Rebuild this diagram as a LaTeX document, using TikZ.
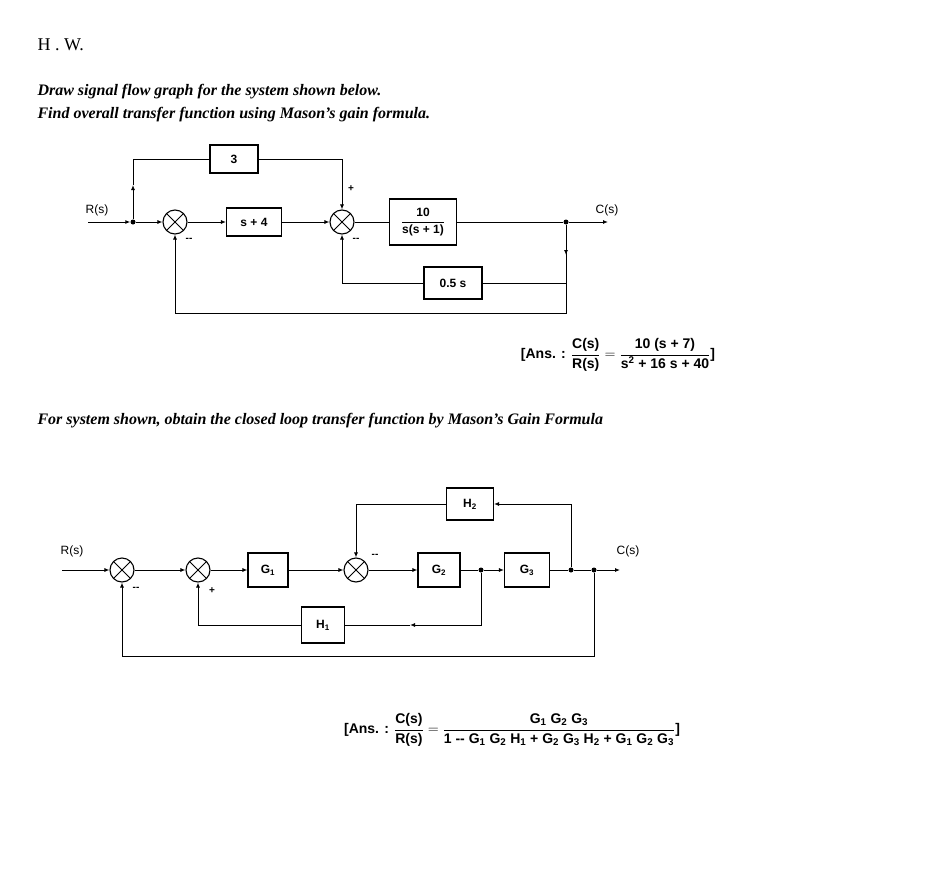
\documentclass[tikz,border=0pt]{standalone}
\usepackage{fontspec}
\setmainfont{Liberation Serif}
\newfontfamily\dsans{Liberation Sans}
\usetikzlibrary{arrows.meta}
\newcommand{\bb}[1]{\textbf{#1}}
\newcommand{\gs}[2]{\textbf{#1}\textsubscript{\textbf{#2}}}
\begin{document}
\begin{tikzpicture}[x=1pt,y=-1pt,
  blk/.style={draw,line width=1.1pt,fill=white,font=\dsans\bfseries\fontsize{12}{13}\selectfont,inner sep=2pt},
  sumj/.style={draw,line width=1.1pt,circle,minimum size=24pt,inner sep=0pt,path picture={\draw[line width=1pt] (path picture bounding box.north west)--(path picture bounding box.south east) (path picture bounding box.south west)--(path picture bounding box.north east);}},
  sig/.style={line width=0.9pt},
  ar/.style={sig,-{Latex[length=5pt,width=4pt]}},
  dot/.style={circle,fill,inner sep=0pt,minimum size=5pt},
  lab/.style={font=\dsans\fontsize{12}{13}\selectfont},
  sg/.style={font=\dsans\bfseries\fontsize{10}{10}\selectfont},
  ttl/.style={anchor=west,font=\bfseries\itshape\fontsize{16}{17}\selectfont},
  ans/.style={font=\dsans\bfseries\fontsize{14}{16}\selectfont}]
\useasboundingbox (0,0) rectangle (928,888);
\node[anchor=west,font=\fontsize{18}{20}\selectfont] (hw) at (34,45) {H . W.};
\node[ttl] (t1) at (34,92) {Draw signal flow graph for the system shown below.};
\node[ttl] (t2) at (34,115) {Find overall transfer function using Mason's gain formula.};
\node[ttl] (t3) at (34,421) {For system shown, obtain the closed loop transfer function by Mason's Gain Formula};
% top diagram
\coordinate (in1) at (88,222);
\node[dot] (b1) at (133,222) {};
\node[sumj] (s1) at (175,222) {};
\node[blk,minimum width=55pt,minimum height=28pt] (k1) at (254,222) {s + 4};
\node[sumj] (s2) at (342,222) {};
\node[blk,minimum width=67pt,minimum height=46pt] (k2) at (423,222) {$\displaystyle\frac{\textbf{10}}{\textbf{s(s + 1)}}$};
\node[dot] (b2) at (566,222) {};
\coordinate (out1) at (608,222);
\node[blk,minimum width=48pt,minimum height=28pt] (k3) at (234,159) {3};
\node[blk,minimum width=58pt,minimum height=32pt] (k4) at (453,283) {0.5 s};
\node[lab] (r1) at (97,210) {R(s)};
\node[lab] (c1) at (607,210) {C(s)};
\draw[ar] (in1)--(b1); \draw[ar] (b1)--(s1); \draw[ar] (s1)--(k1); \draw[ar] (k1)--(s2);
\draw[sig] (s2)--(k2); \draw[sig] (k2)--(b2); \draw[ar] (b2)--(out1);
\draw[ar] (b1)--(133,185); \draw[sig] (133,185)--(133,159)--(k3); \draw[ar] (k3)--(342,159)--(s2);
\draw[ar] (b2)--(566,255); \draw[sig] (566,255)--(566,283)--(k4); \draw[ar] (k4)--(342,283)--(s2);
\draw[ar] (b2)--(566,313)--(175,313)--(s1);
\node[sg] at (351,189) {+};
\node[sg] at (189,240) {--}; \node[sg] at (356,240) {--};
\node[ans] (a1) at (618,355) {[Ans. : $\displaystyle\frac{\bb{C(s)}}{\bb{R(s)}}=\frac{\bb{10 (s + 7)}}{\bb{s\textsuperscript{2} + 16 s + 40}}$]};
% bottom diagram
\coordinate (in2) at (62,570);
\node[sumj] (t1s) at (122,570) {};
\node[sumj] (t2s) at (198,570) {};
\node[blk,minimum width=40pt,minimum height=34pt] (g1) at (268,570) {G\textsubscript{1}};
\node[sumj] (t3s) at (356,570) {};
\node[blk,minimum width=42pt,minimum height=34pt] (g2) at (439,570) {G\textsubscript{2}};
\node[dot] (p1) at (481,570) {};
\node[blk,minimum width=45pt,minimum height=34pt] (g3) at (527,570) {G\textsubscript{3}};
\node[dot] (p2) at (571,570) {};
\node[dot] (p3) at (594,570) {};
\coordinate (out2) at (620,570);
\node[blk,minimum width=47pt,minimum height=32pt] (h2) at (470,504) {H\textsubscript{2}};
\node[blk,minimum width=43pt,minimum height=36pt] (h1) at (323,625) {H\textsubscript{1}};
\node[lab] (r2) at (72,551) {R(s)};
\node[lab] (c2) at (628,551) {C(s)};
\draw[ar] (in2)--(t1s); \draw[ar] (t1s)--(t2s); \draw[ar] (t2s)--(g1); \draw[ar] (g1)--(t3s);
\draw[ar] (t3s)--(g2); \draw[sig] (g2)--(p1); \draw[ar] (p1)--(g3); \draw[sig] (g3)--(p2)--(p3); \draw[ar] (p3)--(out2);
\draw[ar] (p2)--(571,504)--(h2); \draw[ar] (h2)--(356,504)--(t3s);
\draw[ar] (p1)--(481,625)--(410,625); \draw[sig] (410,625)--(h1); \draw[ar] (h1)--(198,625)--(t2s);
\draw[ar] (p3)--(594,656)--(122,656)--(t1s);
\node[sg] at (136,589) {--}; \node[sg] at (212,591) {+}; \node[sg] at (375,556) {--};
\node[ans] (a2) at (512,730) {[Ans. : $\displaystyle\frac{\bb{C(s)}}{\bb{R(s)}}=\frac{\mbox{\gs{G}{1}\ \gs{G}{2}\ \gs{G}{3}}}{\mbox{\bb{1 -- }\gs{G}{1}\ \gs{G}{2}\ \gs{H}{1}\bb{ + }\gs{G}{2}\ \gs{G}{3}\ \gs{H}{2}\bb{ + }\gs{G}{1}\ \gs{G}{2}\ \gs{G}{3}}}$]};
\end{tikzpicture}
\end{document}
